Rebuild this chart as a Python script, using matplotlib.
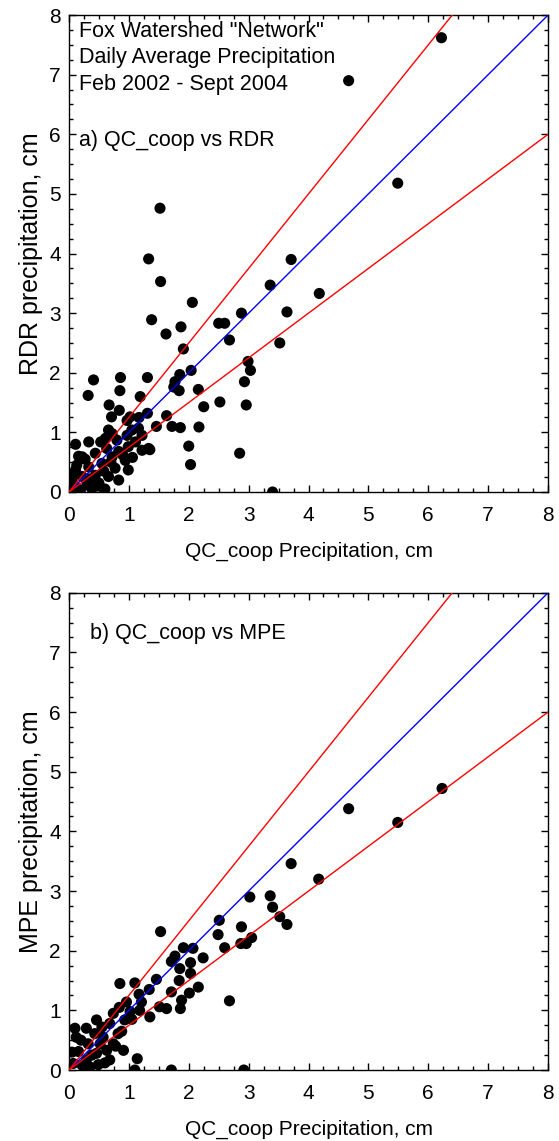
import matplotlib.pyplot as plt
import numpy as np

plt.rcParams['font.family'] = ['Liberation Sans', 'DejaVu Sans']

# a) QC_coop vs RDR (cm)
qc_a = [6.22, 4.67, 5.49, 3.71, 3.36, 4.18, 3.64, 3.52, 2.88, 2.99, 3.03, 2.93, 2.96, 2.85, 3.40,
        1.52, 1.33, 1.53, 1.38, 1.62, 2.06, 1.87, 1.91, 2.50, 2.60, 2.68, 2.52, 2.04, 2.16, 2.25,
        2.17, 2.00, 2.03, 1.85, 1.77, 1.84, 1.75, 1.63, 1.72, 1.86, 1.46, 1.35,
        1.31, 0.86, 0.85, 0.41, 0.32, 1.19, 0.67, 0.84, 0.71, 1.02, 1.31, 1.17, 0.97,
        0.11, 0.33, 0.53, 0.66, 0.72, 0.61, 0.80, 0.97, 1.05, 1.16, 1.22, 1.11, 1.33, 1.22,
        0.99, 0.83, 0.63, 0.72, 0.94, 0.44, 0.22, 0.13, 0.33, 0.55, 0.77, 0.99, 0.66, 0.44,
        0.22, 0.05, 0.11, 0.50, 0.83, 0.30, 0.11, 0.02, 0.38, 0.19, 0.58, 0.90, 0.27, 0.47,
        0.16, 0.70, 1.06, 0.08, 0.35, 0.60]
rdr_a = [7.62, 6.90, 5.18, 3.90, 3.47, 3.33, 3.02, 2.50, 3.00, 2.19, 2.04, 1.85, 1.46, 0.65, 0.00,
         4.76, 3.91, 3.53, 2.89, 2.65, 3.18, 2.77, 2.40, 2.83, 2.83, 2.55, 1.51, 2.04, 1.72, 1.43,
         1.09, 0.77, 0.46, 1.97, 1.85, 1.70, 1.76, 1.28, 1.10, 1.08, 1.10, 0.71,
         1.92, 1.92, 1.70, 1.88, 1.62, 1.60, 1.46, 1.37, 1.26, 1.26, 1.32, 1.25, 1.20,
         0.80, 0.84, 0.84, 1.04, 0.98, 0.90, 0.87, 0.95, 1.04, 1.07, 0.95, 0.84, 0.73, 0.70,
         0.76, 0.68, 0.73, 0.59, 0.53, 0.65, 0.59, 0.45, 0.42, 0.48, 0.40, 0.37, 0.26, 0.28,
         0.26, 0.20, 0.37, 0.15, 0.20, 0.12, 0.09, 0.06, 0.06, 0.03, 0.35, 0.62, 0.55, 0.10,
         0.60, 0.50, 0.58, 0.30, 0.22, 0.05]

# b) QC_coop vs MPE (cm)
qc_b = [6.23, 5.49, 4.67, 3.71, 4.17, 3.36, 3.02, 3.40, 3.52, 3.64, 2.88, 3.05, 2.96, 2.87,
        2.51, 2.49, 2.60, 2.68, 1.53, 2.07, 1.91, 2.24, 1.77, 1.71, 1.85, 2.03, 2.03, 1.84,
        2.16, 2.01, 1.71, 1.88, 1.86, 1.63, 1.46, 1.51, 1.34, 1.17, 1.10, 0.85, 1.35, 1.21,
        1.18, 1.02, 0.96, 0.84, 0.74, 0.93, 0.46, 0.68, 0.10, 0.29, 0.43, 0.57, 0.82, 0.91,
        1.14, 0.16, 0.29, 0.46, 0.63, 0.74, 0.52, 0.32, 0.68, 0.07, 0.49, 1.10, 1.71, 2.92,
        0.27, 0.20, 0.38, 0.60, 0.05, 0.12, 0.55, 0.88, 1.05, 0.35, 0.22, 0.78]
mpe_b = [4.72, 4.15, 4.38, 3.46, 3.20, 2.92, 2.90, 2.73, 2.57, 2.44, 2.40, 2.22, 2.12, 2.12,
         2.51, 2.27, 2.05, 1.16, 2.32, 2.04, 2.05, 1.88, 1.91, 1.82, 1.70, 1.80, 1.62, 1.50,
         1.39, 1.29, 1.31, 1.17, 1.03, 1.03, 1.52, 1.06, 1.35, 1.27, 1.46, 1.45, 0.89, 1.14,
         1.00, 0.98, 1.14, 1.05, 0.95, 0.84, 0.84, 0.78, 0.70, 0.70, 0.61, 0.55, 0.61, 0.33,
         0.19, 0.31, 0.17, 0.28, 0.33, 0.44, 0.44, 0.44, 0.17, 0.11, 0.09, 0.00, 0.00, 0.00,
         0.00, 0.50, 0.25, 0.12, 0.30, 0.55, 0.72, 0.65, 0.85, 0.05, 0.08, 0.40]

ref_x = [0, 8]
upper = 1.25
lower = 0.75


def panel(ax, qc, other, ylabel, label, texty):
    ax.scatter(qc, other, s=64, c='black', edgecolors='none', zorder=2)
    ax.plot(ref_x, ref_x, color='blue', lw=1, zorder=3)
    ax.plot(ref_x, [v * upper for v in ref_x], color='red', lw=1, zorder=3)
    ax.plot(ref_x, [v * lower for v in ref_x], color='red', lw=1, zorder=3)
    ax.set_xlim(0, 8)
    ax.set_ylim(0, 8)
    ax.set_xticks(range(9))
    ax.set_yticks(range(9))
    ax.set_xticks(np.arange(0, 8.01, 0.25), minor=True)
    ax.set_yticks(np.arange(0, 8.01, 0.25), minor=True)
    ax.tick_params(which='both', direction='in', top=True, right=True, labelsize=15, width=1)
    ax.tick_params(which='major', length=5)
    ax.tick_params(axis='x', which='major', pad=10)
    ax.tick_params(axis='y', which='major', pad=6)
    ax.tick_params(which='minor', length=3)
    for s in ax.spines.values():
        s.set_linewidth(1)
    ax.set_xlabel('QC_coop Precipitation, cm', fontsize=15, labelpad=12)
    ax.set_ylabel(ylabel, fontsize=18, labelpad=4)
    ax.text(label[0], texty, label[1], fontsize=15.5, va='center')


fig = plt.figure(figsize=(5.59, 11.41), dpi=100)
ax1 = fig.add_axes([0.1234, 0.5688, 0.857, 0.418])
ax2 = fig.add_axes([0.1234, 0.0622, 0.857, 0.4183])

panel(ax1, qc_a, rdr_a, 'RDR precipitation, cm', (0.17, 'a) QC_coop vs RDR'), 5.9)
for yy, t in zip([7.72, 7.28, 6.84],
                 ['Fox Watershed "Network"', 'Daily Average Precipitation', 'Feb 2002 - Sept 2004']):
    ax1.text(0.17, yy, t, fontsize=15.5, va='center')

panel(ax2, qc_b, mpe_b, 'MPE precipitation, cm', (0.35, 'b) QC_coop vs MPE'), 7.32)

fig.savefig('out.png', dpi=100)
